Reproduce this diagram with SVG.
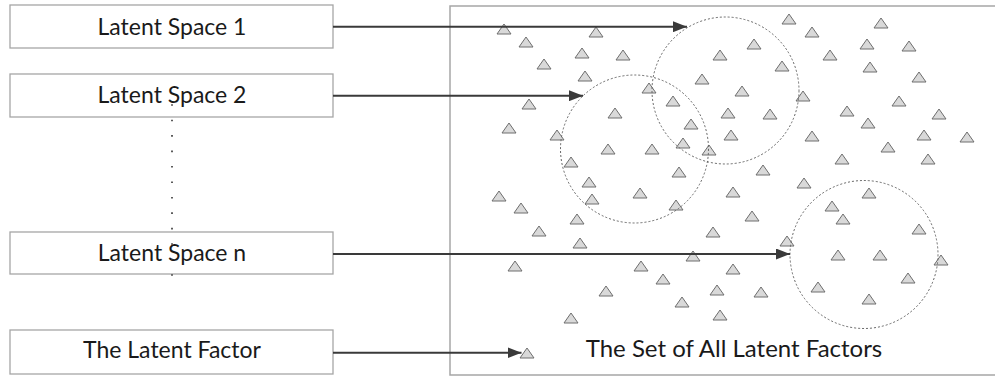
<svg xmlns="http://www.w3.org/2000/svg" xmlns:xlink="http://www.w3.org/1999/xlink" width="995" height="378" viewBox="0 0 995 378">
  <style>
    .box { fill: #ffffff; stroke: #a6a6a6; stroke-width: 1.3; }
    .frame { fill: #ffffff; stroke: #a6a6a6; stroke-width: 1.5; }
    .label { font-family: Lato, "Liberation Sans", sans-serif; font-size: 23px; fill: #1a1a1a; text-anchor: middle; }
    .big { font-size: 24px; }
    .arrow { stroke: #3a3a3a; stroke-width: 2; fill: none; }
    .region { fill: none; stroke: #666666; stroke-width: 1; stroke-dasharray: 2 2; }
    .pt { fill: #d9d9d9; stroke: #6e6e6e; stroke-width: 1; }
    .ellipsis { stroke: #333333; stroke-width: 1.6; stroke-dasharray: 1.6 13.85; }
  </style>
  <defs>
    <marker id="head" markerUnits="userSpaceOnUse" markerWidth="14" markerHeight="11" refX="14" refY="5.5" orient="auto">
      <path d="M0,0 L14,5.5 L0,11 Z" fill="#3a3a3a"/>
    </marker>
    <path id="tri" class="pt" d="M0,-5 L7,5 L-7,5 Z"/>
  </defs>

  <rect width="995" height="378" fill="#ffffff"/>

  <!-- the set of all latent factors -->
  <g id="factor-set">
    <rect class="frame" x="450" y="6" width="560" height="369"/>
    <g id="points">
      <use xlink:href="#tri" x="504" y="29"/>
      <use xlink:href="#tri" x="526" y="42"/>
      <use xlink:href="#tri" x="596" y="32"/>
      <use xlink:href="#tri" x="582" y="53"/>
      <use xlink:href="#tri" x="623" y="55"/>
      <use xlink:href="#tri" x="544" y="64"/>
      <use xlink:href="#tri" x="585" y="76"/>
      <use xlink:href="#tri" x="649" y="88"/>
      <use xlink:href="#tri" x="673" y="101"/>
      <use xlink:href="#tri" x="529" y="104"/>
      <use xlink:href="#tri" x="615" y="113"/>
      <use xlink:href="#tri" x="691" y="124"/>
      <use xlink:href="#tri" x="509" y="128"/>
      <use xlink:href="#tri" x="702" y="79"/>
      <use xlink:href="#tri" x="720" y="55"/>
      <use xlink:href="#tri" x="789" y="19"/>
      <use xlink:href="#tri" x="812" y="32"/>
      <use xlink:href="#tri" x="881" y="23"/>
      <use xlink:href="#tri" x="754" y="44"/>
      <use xlink:href="#tri" x="867" y="44"/>
      <use xlink:href="#tri" x="909" y="46"/>
      <use xlink:href="#tri" x="830" y="55"/>
      <use xlink:href="#tri" x="782" y="66"/>
      <use xlink:href="#tri" x="870" y="67"/>
      <use xlink:href="#tri" x="919" y="77"/>
      <use xlink:href="#tri" x="742" y="91"/>
      <use xlink:href="#tri" x="803" y="96"/>
      <use xlink:href="#tri" x="899" y="101"/>
      <use xlink:href="#tri" x="728" y="113"/>
      <use xlink:href="#tri" x="770" y="114"/>
      <use xlink:href="#tri" x="847" y="111"/>
      <use xlink:href="#tri" x="939" y="114"/>
      <use xlink:href="#tri" x="868" y="123"/>
      <use xlink:href="#tri" x="557" y="135"/>
      <use xlink:href="#tri" x="608" y="149"/>
      <use xlink:href="#tri" x="652" y="149"/>
      <use xlink:href="#tri" x="683" y="143"/>
      <use xlink:href="#tri" x="709" y="150"/>
      <use xlink:href="#tri" x="571" y="162"/>
      <use xlink:href="#tri" x="679" y="172"/>
      <use xlink:href="#tri" x="589" y="182"/>
      <use xlink:href="#tri" x="499" y="196"/>
      <use xlink:href="#tri" x="592" y="199"/>
      <use xlink:href="#tri" x="640" y="193"/>
      <use xlink:href="#tri" x="676" y="205"/>
      <use xlink:href="#tri" x="521" y="208"/>
      <use xlink:href="#tri" x="577" y="219"/>
      <use xlink:href="#tri" x="539" y="231"/>
      <use xlink:href="#tri" x="580" y="243"/>
      <use xlink:href="#tri" x="713" y="232"/>
      <use xlink:href="#tri" x="731" y="135"/>
      <use xlink:href="#tri" x="812" y="136"/>
      <use xlink:href="#tri" x="924" y="135"/>
      <use xlink:href="#tri" x="967" y="137"/>
      <use xlink:href="#tri" x="888" y="147"/>
      <use xlink:href="#tri" x="842" y="159"/>
      <use xlink:href="#tri" x="928" y="159"/>
      <use xlink:href="#tri" x="763" y="170"/>
      <use xlink:href="#tri" x="804" y="183"/>
      <use xlink:href="#tri" x="733" y="192"/>
      <use xlink:href="#tri" x="869" y="193"/>
      <use xlink:href="#tri" x="832" y="206"/>
      <use xlink:href="#tri" x="752" y="216"/>
      <use xlink:href="#tri" x="843" y="219"/>
      <use xlink:href="#tri" x="919" y="229"/>
      <use xlink:href="#tri" x="787" y="241"/>
      <use xlink:href="#tri" x="693" y="256"/>
      <use xlink:href="#tri" x="515" y="266"/>
      <use xlink:href="#tri" x="641" y="266"/>
      <use xlink:href="#tri" x="663" y="279"/>
      <use xlink:href="#tri" x="606" y="291"/>
      <use xlink:href="#tri" x="682" y="302"/>
      <use xlink:href="#tri" x="717" y="290"/>
      <use xlink:href="#tri" x="571" y="318"/>
      <use xlink:href="#tri" x="720" y="315"/>
      <use xlink:href="#tri" x="527" y="353"/>
      <use xlink:href="#tri" x="838" y="255"/>
      <use xlink:href="#tri" x="880" y="255"/>
      <use xlink:href="#tri" x="941" y="260"/>
      <use xlink:href="#tri" x="733" y="269"/>
      <use xlink:href="#tri" x="908" y="278"/>
      <use xlink:href="#tri" x="818" y="287"/>
      <use xlink:href="#tri" x="761" y="292"/>
      <use xlink:href="#tri" x="869" y="299"/>
    </g>
    <text class="label big" x="734" y="357">The Set of All Latent Factors</text>
  </g>

  <!-- latent space regions -->
  <g id="region-1"><circle class="region" cx="725.5" cy="90.5" r="73.5"/></g>
  <g id="region-2"><circle class="region" cx="634.5" cy="149" r="74"/></g>
  <g id="region-n"><circle class="region" cx="864" cy="254.5" r="74"/></g>

  <!-- source boxes -->
  <g id="latent-space-1">
    <rect class="box" x="10" y="5" width="323" height="43"/>
    <text class="label" x="172" y="35">Latent Space 1</text>
  </g>
  <g id="latent-space-2">
    <rect class="box" x="10" y="74" width="323" height="43"/>
    <text class="label" x="172" y="103">Latent Space 2</text>
  </g>
  <g id="latent-space-n">
    <rect class="box" x="10" y="232" width="323" height="42"/>
    <text class="label" x="172" y="261">Latent Space n</text>
  </g>
  <g id="latent-factor">
    <rect class="box" x="10" y="330" width="323" height="44"/>
    <text class="label" x="172" y="358">The Latent Factor</text>
  </g>

  <!-- vertical ellipsis between the spaces -->
  <line class="ellipsis" x1="172" y1="104.2" x2="172" y2="276"/>

  <g id="connectors">
    <line class="arrow" x1="333" y1="26.7" x2="687" y2="26.7" marker-end="url(#head)"/>
    <line class="arrow" x1="333" y1="95.7" x2="583" y2="95.7" marker-end="url(#head)"/>
    <line class="arrow" x1="333" y1="254" x2="790" y2="254" marker-end="url(#head)"/>
    <line class="arrow" x1="333" y1="352.7" x2="521.5" y2="352.7" marker-end="url(#head)"/>
  </g>
</svg>
